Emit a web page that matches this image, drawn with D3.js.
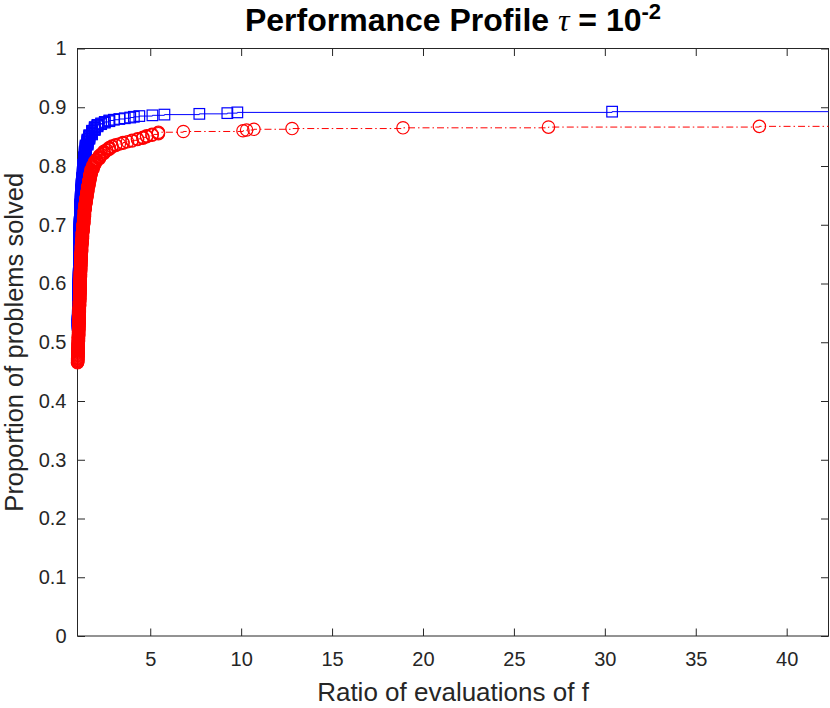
<!DOCTYPE html>
<html>
<head>
<meta charset="utf-8">
<script src="https://cdn.jsdelivr.net/npm/d3@7"></script>
<style>
  body { margin: 0; background: #fff; }
  text { font-family: "Liberation Sans", Arial, Helvetica, sans-serif; }
</style>
</head>
<body>
<div id="chart"></div>
<script>
// svg size
var svgWidth = 830;
var svgHeight = 708;

// chart area (axes box)
var chartMargin = { top: 48.5, right: 1.5, bottom: 72, left: 77.5 };
var chartWidth = svgWidth - chartMargin.left - chartMargin.right;
var chartHeight = svgHeight - chartMargin.top - chartMargin.bottom;

// data: performance ratios, with number of problems at each ratio
var nProblems = 800;
var xMax = 42.3;

// solver 1 (blue squares)
var blueStart = 424;   // problems with ratio 1
var blueRatio = [1.01, 1.02, 1.03, 1.04, 1.05, 1.06, 1.07, 1.08, 1.09, 1.10,
                 1.11, 1.12, 1.14, 1.16, 1.18, 1.21, 1.23, 1.26, 1.29, 1.32,
                 1.36, 1.40, 1.45, 1.55, 1.65, 1.8, 1.95, 2.1, 2.3, 2.5,
                 2.75, 3.0, 3.3, 3.6, 3.9, 4.1, 4.4, 5.12, 5.78, 7.7,
                 9.24, 9.79, 30.4];
var blueCount = [6, 8, 10, 10, 10, 12, 14, 14, 14, 14,
                 14, 14, 12, 12, 10, 10, 8, 8, 8, 10,
                 10, 8, 8, 8, 6, 6, 5, 3, 2, 2,
                 2, 1, 1, 1, 1, 1, 1, 1, 1, 1,
                 1, 1, 1];

// solver 2 (red circles)
var redStart = 372;
var redRatio = [1.01, 1.02, 1.03, 1.04, 1.05, 1.06, 1.07, 1.08, 1.09, 1.10,
                1.11, 1.12, 1.13, 1.14, 1.15, 1.16, 1.17, 1.18, 1.20, 1.22,
                1.24, 1.27, 1.30, 1.34, 1.38, 1.42, 1.46, 1.51, 1.56, 1.62,
                1.68, 1.75, 1.85, 1.95, 2.05, 2.2, 2.3, 2.45, 2.6, 2.75,
                2.9, 3.1, 3.3, 3.5, 3.75, 4.0, 4.3, 4.6, 4.8, 5.1,
                5.45, 6.82, 10.1, 10.3, 10.7, 12.8, 18.9, 26.9, 38.5];
var redCount = [6, 7, 7, 8, 8, 8, 8, 8, 8, 8,
                8, 8, 8, 8, 8, 8, 8, 8, 10, 10,
                8, 10, 10, 10, 10, 8, 8, 8, 8, 8,
                8, 7, 6, 5, 3, 5, 2, 4, 2, 3,
                2, 2, 1, 2, 1, 2, 2, 2, 2, 2,
                3, 1, 1, 1, 1, 1, 1, 1, 1];

var xTicks = [5, 10, 15, 20, 25, 30, 35, 40];
var yTicks = [0, 0.1, 0.2, 0.3, 0.4, 0.5, 0.6, 0.7, 0.8, 0.9, 1];

var axisColor = "#262626";

// cumulative proportion of problems solved (performance profile)
function profile(start, ratios, counts) {
  var pts = [{ x: 1, y: start / nProblems }];
  var k = start;
  ratios.forEach(function(r, i) {
    for (var j = 0; j < counts[i]; j++) {
      k++;
      pts.push({ x: r, y: k / nProblems });
    }
  });
  return pts;
}

var bluePts = profile(blueStart, blueRatio, blueCount);
var redPts = profile(redStart, redRatio, redCount);

var svg = d3.select("#chart")
  .append("svg")
  .attr("width", svgWidth)
  .attr("height", svgHeight);

var xScale = d3.scaleLinear()
  .domain([1, xMax])
  .range([chartMargin.left, chartMargin.left + chartWidth]);

var yScale = d3.scaleLinear()
  .domain([0, 1])
  .range([chartMargin.top + chartHeight, chartMargin.top]);

var tick = 7.5;

// bottom axis with labels
var xAxis = svg.append("g")
  .attr("transform", "translate(0," + (chartMargin.top + chartHeight) + ")")
  .call(d3.axisBottom(xScale).tickValues(xTicks).tickSizeInner(-tick).tickSizeOuter(0).tickPadding(16));

// left axis with labels
var yAxis = svg.append("g")
  .attr("transform", "translate(" + chartMargin.left + ",0)")
  .call(d3.axisLeft(yScale).tickValues(yTicks).tickFormat(d3.format("~g")).tickSizeInner(-tick).tickSizeOuter(0).tickPadding(11));

// top and right ticks, no labels
var topAxis = svg.append("g")
  .attr("transform", "translate(0," + chartMargin.top + ")")
  .call(d3.axisTop(xScale).tickValues(xTicks).tickSizeInner(-tick).tickSizeOuter(0).tickFormat(""));

var rightAxis = svg.append("g")
  .attr("transform", "translate(" + (chartMargin.left + chartWidth) + ",0)")
  .call(d3.axisRight(yScale).tickValues(yTicks).tickSizeInner(-tick).tickSizeOuter(0).tickFormat(""));

[xAxis, yAxis, topAxis, rightAxis].forEach(function(g) {
  g.select(".domain").remove();
  g.selectAll("line").attr("stroke", axisColor).attr("stroke-width", 1);
  g.selectAll("text").attr("fill", axisColor).attr("font-size", 20)
    .attr("font-family", "'Liberation Sans', Arial, sans-serif");
});

// box
svg.append("rect")
  .attr("x", chartMargin.left)
  .attr("y", chartMargin.top)
  .attr("width", chartWidth)
  .attr("height", chartHeight)
  .attr("fill", "none")
  .attr("stroke", axisColor)
  .attr("stroke-width", 1);

var line = d3.line()
  .x(function(d) { return xScale(d.x); })
  .y(function(d) { return yScale(d.y); })
  .curve(d3.curveStepAfter);

function drawSeries(pts, color, dash, marker) {
  var last = pts[pts.length - 1];
  var linePts = pts.concat([{ x: xMax, y: last.y }]);
  svg.append("path")
    .datum(linePts)
    .attr("d", line)
    .attr("fill", "none")
    .attr("stroke", color)
    .attr("stroke-width", 1)
    .attr("stroke-dasharray", dash);

  var g = svg.append("g");
  if (marker === "square") {
    g.selectAll("rect").data(pts).enter()
      .append("rect")
      .attr("x", function(d) { return xScale(d.x) - 5.3; })
      .attr("y", function(d) { return yScale(d.y) - 5.3; })
      .attr("width", 10.6)
      .attr("height", 10.6)
      .attr("fill", "none")
      .attr("stroke", color)
      .attr("stroke-width", 1.2);
  } else {
    g.selectAll("circle").data(pts).enter()
      .append("circle")
      .attr("cx", function(d) { return xScale(d.x); })
      .attr("cy", function(d) { return yScale(d.y); })
      .attr("r", 6.2)
      .attr("fill", "none")
      .attr("stroke", color)
      .attr("stroke-width", 1.2);
  }
}

drawSeries(bluePts, "#0000ff", null, "square");
drawSeries(redPts, "#ff0000", "7,3,1.5,3", "circle");

// title
var title = svg.append("text")
  .attr("x", chartMargin.left + chartWidth / 2)
  .attr("y", 31)
  .attr("text-anchor", "middle")
  .attr("font-size", 32)
  .attr("font-weight", "bold")
  .attr("fill", "#000");
title.append("tspan").text("Performance Profile ");
title.append("tspan").text("τ")
  .attr("font-family", "'Liberation Serif', 'DejaVu Serif', serif")
  .attr("font-style", "italic")
  .attr("font-weight", "normal");
title.append("tspan").text(" = 10");
title.append("tspan").text("-2").attr("font-size", 22).attr("dy", -12);

// axis labels
svg.append("text")
  .attr("x", chartMargin.left + chartWidth / 2)
  .attr("y", 701)
  .attr("text-anchor", "middle")
  .attr("font-size", 26)
  .attr("fill", axisColor)
  .text("Ratio of evaluations of f");

svg.append("text")
  .attr("transform", "translate(23," + (chartMargin.top + chartHeight / 2) + ") rotate(-90)")
  .attr("text-anchor", "middle")
  .attr("font-size", 25.5)
  .attr("fill", axisColor)
  .text("Proportion of problems solved");
</script>
</body>
</html>
